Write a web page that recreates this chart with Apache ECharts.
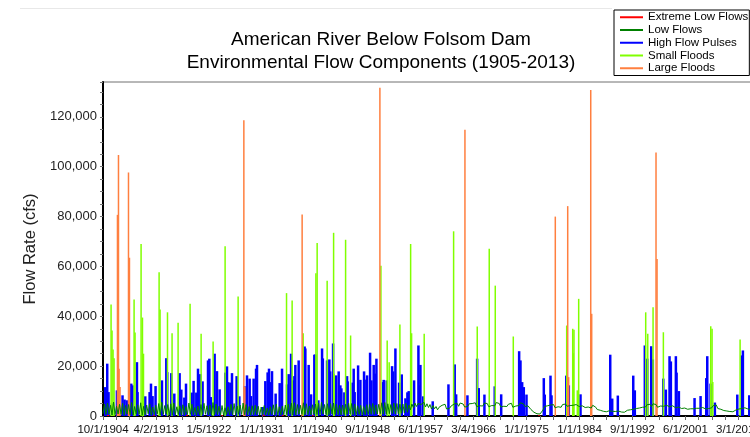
<!DOCTYPE html>
<html>
<head>
<meta charset="utf-8">
<script src="https://cdn.jsdelivr.net/npm/echarts@6/dist/echarts.min.js"></script>
<style>
html,body{margin:0;padding:0;background:#fff;}
#chart{width:750px;height:437px;}
</style>
</head>
<body>
<div id="chart"></div>
<script>
// ---- axis data ----
const START_YEAR = 1904.75;   // 10/1/1904
const END_YEAR = 2013.75;     // 9/30/2013
const labelSpacingYears = 8.7844;
const tickLabels = ['10/1/1904','4/2/1913','1/5/1922','1/1/1931','1/1/1940','9/1/1948',
  '6/1/1957','3/4/1966','1/1/1975','1/1/1984','9/1/1992','6/1/2001','3/1/2010'];
const yTicks = { min: 0, max: 134000, interval: 20000 };

// ---- series data: [decimal year, flow cfs] ----
const extremeLowFlows = [[1905.6,400],[1913.2,300],[1918.7,350],[1924.5,300],[1931.4,450],
  [1934.6,350],[1939.6,300],[1977.1,300]];

// Low flows, sampled quarterly from 10/1/1904
const lowFlowStep = 0.25;
const lowFlows = [
  900,4800,600,5200, 700,4300,400,5600, 500,3900,800,4700, 600,5100,300,4200, 800,4600,500,5400,
  400,3800,700,4500, 600,5300,300,3900, 500,4400,900,4900, 300,3600,500,4300, 700,5000,400,5500,
  600,4200,800,4600, 400,4900,300,5200, 500,3700,600,4100, 300,4500,400,3800, 600,5200,700,4700,
  400,3400,300,4000, 500,4600,600,5100, 700,4100,400,4400, 300,5400,500,4800, 600,3900,300,4200,
  400,3300,600,3700, 500,4700,400,5000, 300,4000,700,4400, 600,5200,500,4600, 400,3800,300,4100,
  500,4300,600,3900, 300,3600,400,4200, 400,3200,300,3700, 600,4500,500,4800, 300,3700,400,4000,
  500,4400,600,4700, 700,5100,400,5300, 400,4600,700,4300, 600,5300,500,4900, 500,4000,400,4500,
  700,4800,600,5200, 500,5500,800,4600, 600,4900,500,5000, 800,5200,600,4700, 500,4300,400,4400,
  600,4700,700,5100, 700,5000,500,4800, 500,4100,600,4300, 400,3800,500,4500, 600,4600,700,5000,
  700,4400,800,4700, 900,5300,700,5400, 800,4900,900,4600, 1000,5200,800,5000, 900,4700,1100,4800,
  1200,5100,1500,4400,
  2500,4800,3300,5200, 3800,5000,4200,4600, 4100,5500,3600,4900, 3400,4600,2800,4200, 2900,3800,2500,3500,
  3200,4300,3600,4700, 2800,3600,3100,4000, 3500,4800,4200,5100, 3900,5200,4500,4800, 3600,4400,3800,4900,
  4200,5000,4300,5300, 3800,4600,4100,4500, 4000,5200,4700,5000, 3700,4500,4200,4800, 4100,5400,4600,5000,
  3600,4300,3900,4600, 3800,4700,4400,5100, 3500,4200,4000,4500, 4200,5300,4800,4900, 3800,4500,4100,3600,
  2600,2100,1500,1200, 900,1100,800,1300, 2400,3800,3200,4100, 3600,4400,3900,4600, 3300,4100,3700,4300,
  3500,4600,4000,4800, 3900,4700,4200,4500, 4300,5000,4600,4400, 3800,4600,4100,4700, 3400,4100,3600,3900,
  3200,4300,3800,3500, 2600,2900,2300,2500, 1900,2200,1700,2400, 2100,2600,1900,2300, 1800,2400,2000,2600,
  1600,1900,1500,2200, 2300,2800,2500,3100, 2700,3400,3000,3800, 3200,3900,3500,4200, 3600,4500,4000,4700,
  3800,4900,4400,4600, 3500,4300,4000,4800, 3900,4700,4300,5000, 3700,4400,4100,4600, 3300,4000,3600,4200,
  3000,3700,3200,3900, 2700,3300,2900,3500, 2900,3600,3100,3800, 3100,3900,3400,4100, 2800,3500,3000,3700,
  3300,4200,3800,4400, 3000,3600,2700,3200, 2200,2600,2000,2400, 1800,2300,1700,2500, 2400,3100,2800,3400,
  3000,3800,3300,4000, 2800,3300,2600,3000, 2300,2900,2500,2700,
  2400
];

const highFlowPulses = [
  [1905.08,11600],[1905.41,21000],[1905.63,9600],[1906.19,5000],[1907.02,10300],[1907.95,8300],
  [1908.29,6600],[1908.68,6300],[1909.40,13000],[1909.61,12300],[1910.34,21600],[1910.44,9600],
  [1911.72,7900],[1912.44,9600],[1912.67,13000],[1912.93,8000],[1913.43,12000],[1914.49,14300],
  [1915.21,23200],[1915.37,17600],[1916.04,17200],[1916.54,9000],[1917.42,17200],[1917.70,10600],
  [1918.20,7400],[1918.48,13000],[1919.41,9400],[1919.74,14100],[1920.19,9400],[1920.47,19000],
  [1920.85,16800],[1921.23,13900],[1922.13,22300],[1922.35,23000],[1922.59,7600],[1923.23,25000],
  [1923.62,18000],[1924.06,10700],[1925.00,17400],[1925.28,19900],[1925.45,13600],[1925.83,13400],
  [1926.11,17200],[1926.88,16000],[1927.33,7900],[1928.20,11900],[1928.60,16300],[1929.04,15000],
  [1929.27,8000],[1929.70,15000],[1930.10,19000],[1930.26,20500],[1931.19,3600],[1931.64,14000],
  [1932.02,17500],[1932.25,19000],[1932.59,13600],[1932.75,18000],[1933.35,9000],[1934.02,13200],
  [1934.41,19000],[1935.24,12700],[1935.51,16800],[1935.91,25000],[1936.17,14300],[1936.46,16000],
  [1936.62,20500],[1937.17,22300],[1938.16,27900],[1938.28,27100],[1938.83,20500],[1939.23,8700],
  [1939.77,24600],[1939.94,24700],[1940.44,6300],[1941.05,27100],[1941.18,23100],[1941.88,22300],
  [1942.26,22700],[1942.40,17900],[1942.88,29100],[1943.38,16300],[1943.81,17900],[1944.09,12300],
  [1944.26,11100],[1944.75,9500],[1945.20,16000],[1945.30,13900],[1946.13,13400],[1946.30,19000],
  [1946.46,9600],[1947.03,20300],[1947.41,14500],[1948.02,17900],[1948.12,14600],[1948.52,16300],
  [1949.02,25400],[1949.24,14300],[1949.62,20500],[1949.90,17000],[1950.07,23000],[1951.18,13600],
  [1951.28,14500],[1951.78,14300],[1952.67,20000],[1952.84,17900],[1953.22,27100],[1953.83,13400],
  [1954.27,16700],[1954.88,7100],[1955.21,9500],[1955.43,10000],[1956.32,14300],[1957.04,28300],
  [1957.25,12300],[1957.37,20500],[1957.82,7900],[1959.41,5900],[1962.02,12700],[1963.06,20700],
  [1963.30,8700],[1965.17,8300],[1966.78,23000],[1967.05,11200],[1967.99,8600],[1969.70,11900],
  [1970.77,8700],[1973.75,26000],[1973.97,22300],[1974.25,13600],[1974.52,11600],[1974.97,8600],
  [1977.84,15200],[1978.00,8600],[1978.95,16200],[1979.12,8300],[1981.56,16200],[1981.99,12300],
  [1983.93,8700],[1988.86,24600],[1989.19,7000],[1990.12,8200],[1992.68,16200],[1992.94,10300],
  [1994.60,28300],[1995.00,23000],[1995.67,28000],[1995.93,22700],[1997.66,15000],[1998.09,10600],
  [1998.70,24000],[1998.92,21900],[1999.75,24000],[1999.87,17400],[2000.25,10000],[2002.85,7200],
  [2003.85,8000],[2004.79,15200],[2004.96,24000],[2005.51,13000],[2006.22,5400],[2009.94,8600],
  [2010.70,24300],[2010.87,26300],[2011.93,8300]
];

const smallFloods = [
  [1906.13,44700],[1906.29,34300],[1906.46,26700],[1906.63,23200],[1909.95,46700],[1910.11,33500],
  [1911.11,69000],[1911.34,39500],[1911.51,25000],[1914.10,57700],[1914.26,42700],[1915.49,41600],
  [1916.25,33200],[1917.25,37400],[1919.24,45000],[1921.07,33000],[1923.06,29900],[1925.05,68100],
  [1927.21,47900],[1935.24,49300],[1936.17,46300],[1938.00,33200],[1940.11,57300],[1940.32,69400],
  [1941.98,54300],[1943.05,73500],[1943.14,17000],[1945.04,70700],[1945.87,32300],[1950.90,60300],
  [1951.94,30300],[1952.27,21600],[1954.05,36700],[1955.83,69000],[1955.99,33200],[1958.08,33000],
  [1962.96,74100],[1966.88,35900],[1968.87,67100],[1969.87,52300],[1972.86,31900],[1981.72,36300],
  [1982.72,35000],[1982.82,25200],[1982.93,34600],[1983.48,10300],[1983.71,47000],[1994.83,41600],
  [1995.17,33000],[1996.05,43600],[1997.76,33600],[2005.62,36000],[2005.84,35000],[2005.96,13600],
  [2010.49,30700]
];

const largeFloods = [
  [1907.19,80700],[1907.36,104700],[1907.46,19000],[1907.62,11600],[1909.02,97700],[1909.18,63500],
  [1928.16,118700],[1928.32,11600],[1937.83,80800],[1950.73,131700],[1964.84,114800],[1979.83,80000],
  [1981.89,84200],[1982.05,15600],[1985.71,130800],[1985.87,41000],[1996.54,105700],[1996.71,63000]
];

// ---- build ----
const toX = y => +(y - START_YEAR).toFixed(4);
const pairs = arr => arr.map(d => [toX(d[0]), d[1]]);
const lowFlowData = lowFlows.map((v, i) => [i * lowFlowStep, v]);

const FONT = '"Liberation Sans", Arial, Helvetica, sans-serif';
const chart = echarts.init(document.getElementById('chart'), null, { renderer: 'canvas' });

const option = {
  animation: false,
  backgroundColor: '#ffffff',
  textStyle: { fontFamily: FONT },
  graphic: [{
    type: 'line', silent: true,
    shape: { x1: 20, y1: 8.5, x2: 612, y2: 8.5 },
    style: { stroke: '#e8e8e8', lineWidth: 1 }
  }],
  title: {
    text: 'American River Below Folsom Dam\nEnvironmental Flow Components (1905-2013)',
    left: 381, top: 28, padding: 0, textAlign: 'center',
    textStyle: { fontSize: 19, lineHeight: 23, fontWeight: 'normal', color: '#000', fontFamily: FONT }
  },
  legend: {
    orient: 'vertical', left: 614, top: 10,
    padding: [1, 1, 1, 6], itemGap: 0.25, itemWidth: 23, itemHeight: 2, icon: 'rect',
    borderColor: '#000', borderWidth: 1, backgroundColor: '#fff',
    textStyle: { fontSize: 11.5, lineHeight: 12.5, color: '#000', fontFamily: FONT },
    data: ['Extreme Low Flows', 'Low Flows', 'High Flow Pulses', 'Small Floods', 'Large Floods']
  },
  grid: { left: 103, right: -10, top: 82, bottom: 21, show: true, borderColor: '#707070', borderWidth: 1,
    containLabel: false, outerBoundsMode: 'none' },
  xAxis: {
    type: 'value', min: 0, max: toX(END_YEAR), interval: labelSpacingYears,
    axisLine: { lineStyle: { color: '#000', width: 2 } },
    axisTick: { show: true, length: 4, lineStyle: { color: '#666' } },
    minorTick: { show: true, splitNumber: 4, length: 4, lineStyle: { color: '#666' } },
    splitLine: { show: false }, minorSplitLine: { show: false },
    axisLabel: {
      margin: 8, fontSize: 11.5, color: '#111', showMaxLabel: false, fontFamily: FONT,
      formatter: v => tickLabels[Math.round(v / labelSpacingYears)] || ''
    }
  },
  yAxis: {
    type: 'value', min: yTicks.min, max: yTicks.max, interval: yTicks.interval,
    name: 'Flow Rate (cfs)', nameLocation: 'middle', nameGap: 59,
    nameTextStyle: { fontSize: 16.5, color: '#222', fontFamily: FONT },
    axisLine: { show: true, lineStyle: { color: '#000', width: 2 } },
    axisTick: { show: true, length: 3, lineStyle: { color: '#777' } },
    minorTick: { show: true, splitNumber: 4, length: 3, lineStyle: { color: '#777' } },
    splitLine: { show: false },
    axisLabel: {
      margin: 6, fontSize: 13, color: '#222', showMaxLabel: false, fontFamily: FONT,
      formatter: v => v.toLocaleString('en-US')
    }
  },
  series: [
    { name: 'High Flow Pulses', type: 'bar', data: pairs(highFlowPulses), barWidth: 2.5, barGap: '-100%',
      itemStyle: { color: '#0000ff' }, z: 2 },
    { name: 'Small Floods', type: 'bar', data: pairs(smallFloods), barWidth: 1.5, barGap: '-100%',
      itemStyle: { color: '#80ff00' }, z: 3 },
    { name: 'Large Floods', type: 'bar', data: pairs(largeFloods), barWidth: 1.5, barGap: '-100%',
      itemStyle: { color: '#ff7f3f' }, z: 4 },
    { name: 'Low Flows', type: 'line', data: lowFlowData, showSymbol: false, symbol: 'none',
      lineStyle: { color: '#008000', width: 1 }, itemStyle: { color: '#008000' }, z: 5 },
    { name: 'Extreme Low Flows', type: 'bar', data: pairs(extremeLowFlows), barWidth: 2, barGap: '-100%',
      itemStyle: { color: '#ff0000' }, z: 6 }
  ]
};
chart.setOption(option);
</script>
</body>
</html>
